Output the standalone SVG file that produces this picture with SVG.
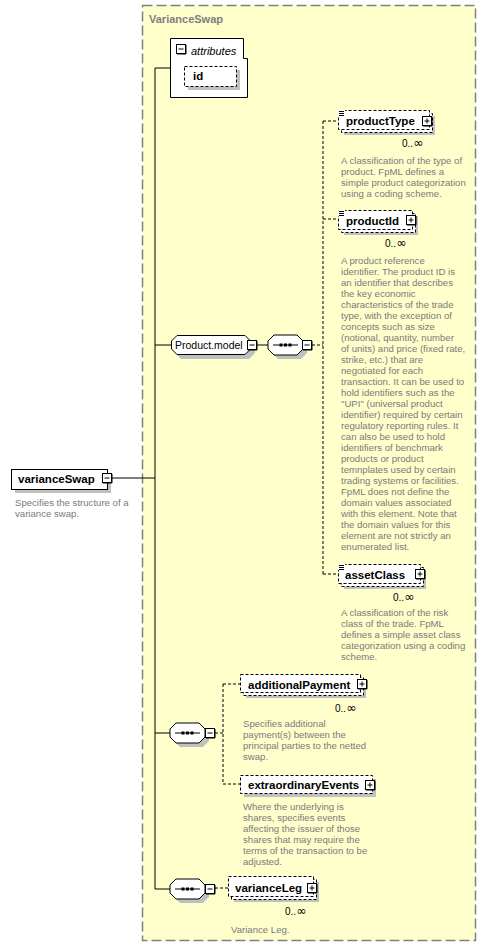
<svg xmlns="http://www.w3.org/2000/svg" width="486" height="951" viewBox="0 0 486 951">
<style>
text{font-family:"Liberation Sans",Arial,sans-serif}
.lbl{font-weight:bold;font-size:11.5px;fill:#000}
.desc{font-size:9.6px;fill:#7a7a7a}
.card{font-size:10px;fill:#000}
.inf{font-family:"DejaVu Sans",sans-serif;font-size:12.5px}
.box{fill:#fff;stroke:#000;stroke-width:1}
.dbox{fill:#fff;stroke:#000;stroke-width:1;stroke-dasharray:3,2}
.shd{fill:#c0c0c0}
.con{fill:none;stroke:#000;stroke-width:1}
.dcon{fill:none;stroke:#000;stroke-width:1;stroke-dasharray:3,2}
</style>
<defs>
<g id="plus"><rect x="0.5" y="0.5" width="9" height="9" fill="#fff" stroke="#000"/><path d="M10,1V10H1" fill="none" stroke="#000"/><path d="M2.5,5H7.5M5,2.5V7.5" stroke="#000"/></g>
<g id="minus"><rect x="0.5" y="0.5" width="9" height="9" fill="#fff" stroke="#000"/><path d="M10,1V10H1" fill="none" stroke="#000"/><path d="M2.5,5H7.5" stroke="#000"/></g>
<g id="elicon"><rect x="0" y="0" width="7" height="6" fill="#fff"/><path d="M1,1.5H6M1,3.5H6M1,5.5H6" stroke="#000" stroke-width="1"/></g>
<path id="seqshape" d="M6,0H29L35,6V14L29,20H6L0,14V6Z"/>
<g id="seqsym"><path d="M5,10H30" stroke="#000"/><rect x="11.5" y="8.5" width="3" height="3" fill="#000"/><rect x="16" y="8.5" width="3" height="3" fill="#000"/><rect x="20.5" y="8.5" width="3" height="3" fill="#000"/></g>
</defs>

<g id="frame">
<rect x="142.5" y="5.5" width="333" height="935" fill="#ffffcc" stroke="#808080" stroke-width="1.5" stroke-dasharray="10,4"/>
<text x="149" y="23" style="font-weight:bold;font-size:11px;fill:#808080">VarianceSwap</text>
</g>

<g id="connectors">
<path class="con" d="M155,68H170M155,68V889M112,478H155M155,345H171M257,345H268M155,733H170M155,889H170"/>
<path class="dcon" d="M312,345H323M323,121V574M323,121H338M323,219H338M323,574H338M215,733H223M223,684V784M223,684H240M223,784H240M215,888H228"/>
</g>

<g id="varianceSwap">
<rect class="shd" x="15" y="473" width="96" height="20"/>
<rect class="box" x="11.5" y="469.5" width="96" height="20"/>
<text class="lbl" x="18" y="483">varianceSwap</text>
<use href="#minus" x="102" y="473"/>
<text class="desc" x="15" y="506">Specifies the structure of a</text>
<text class="desc" x="15" y="517">variance swap.</text>
</g>

<g id="attributes">
<path class="box" d="M170.5,38.5H243.5V58.5H247.5V97.5H170.5Z"/>
<use href="#minus" x="176" y="44"/>
<text x="191" y="55" style="font-style:italic;font-size:11px;fill:#000">attributes</text>
<rect class="shd" x="188" y="70" width="52" height="20"/>
<rect class="dbox" x="184.5" y="66.5" width="52" height="20"/>
<text class="lbl" x="193" y="80">id</text>
</g>

<g id="productModel">
<path class="shd" d="M181,339H249L255,345V353L249,359H181L175,353V345Z"/>
<path class="box" d="M177,335.5H245L250.5,341V349L245,354.5H177L171.5,349V341Z"/>
<text x="175" y="349" style="font-size:10.5px;fill:#000">Product.model</text>
<use href="#minus" x="247" y="340"/>
</g>

<g id="sequence1">
<use href="#seqshape" x="272" y="339" class="shd"/>
<use href="#seqshape" x="268" y="335" style="fill:#fff;stroke:#000"/>
<use href="#seqsym" x="268" y="335"/>
<use href="#minus" x="302" y="340"/>
</g>

<g id="productType">
<rect class="shd" x="344" y="116" width="91" height="19"/>
<rect class="dbox" x="341.5" y="113.5" width="91" height="19"/>
<rect class="dbox" x="338.5" y="110.5" width="91" height="19"/>
<use href="#elicon" x="338" y="110"/>
<text class="lbl" x="346" y="125">productType</text>
<use href="#plus" x="422" y="116"/>
<text class="card" x="402" y="147">0..<tspan class="inf">∞</tspan></text>
<text class="desc" x="341" y="163.5">A classification of the type of</text>
<text class="desc" x="341" y="174.5">product. FpML defines a</text>
<text class="desc" x="341" y="185.5">simple product categorization</text>
<text class="desc" x="341" y="196.5">using a coding scheme.</text>
</g>

<g id="productId">
<rect class="shd" x="344" y="216" width="74" height="19"/>
<rect class="dbox" x="341.5" y="213.5" width="74" height="19"/>
<rect class="dbox" x="338.5" y="210.5" width="74" height="19"/>
<use href="#elicon" x="338" y="210"/>
<text class="lbl" x="346" y="224.5">productId</text>
<use href="#plus" x="406" y="215"/>
<text class="card" x="385" y="247">0..<tspan class="inf">∞</tspan></text>
<text class="desc" x="341" y="263.5">A product reference</text>
<text class="desc" x="341" y="274.5">identifier. The product ID is</text>
<text class="desc" x="341" y="285.5">an identifier that describes</text>
<text class="desc" x="341" y="296.5">the key economic</text>
<text class="desc" x="341" y="307.5">characteristics of the trade</text>
<text class="desc" x="341" y="318.5">type, with the exception of</text>
<text class="desc" x="341" y="329.5">concepts such as size</text>
<text class="desc" x="341" y="340.5">(notional, quantity, number</text>
<text class="desc" x="341" y="351.5">of units) and price (fixed rate,</text>
<text class="desc" x="341" y="362.5">strike, etc.) that are</text>
<text class="desc" x="341" y="373.5">negotiated for each</text>
<text class="desc" x="341" y="384.5">transaction. It can be used to</text>
<text class="desc" x="341" y="395.5">hold identifiers such as the</text>
<text class="desc" x="341" y="406.5">"UPI" (universal product</text>
<text class="desc" x="341" y="417.5">identifier) required by certain</text>
<text class="desc" x="341" y="428.5">regulatory reporting rules. It</text>
<text class="desc" x="341" y="439.5">can also be used to hold</text>
<text class="desc" x="341" y="450.5">identifiers of benchmark</text>
<text class="desc" x="341" y="461.5">products or product</text>
<text class="desc" x="341" y="472.5">temnplates used by certain</text>
<text class="desc" x="341" y="483.5">trading systems or facilities.</text>
<text class="desc" x="341" y="494.5">FpML does not define the</text>
<text class="desc" x="341" y="505.5">domain values associated</text>
<text class="desc" x="341" y="516.5">with this element. Note that</text>
<text class="desc" x="341" y="527.5">the domain values for this</text>
<text class="desc" x="341" y="538.5">element are not strictly an</text>
<text class="desc" x="341" y="549.5">enumerated list.</text>
</g>

<g id="assetClass">
<rect class="shd" x="344" y="570" width="82" height="19"/>
<rect class="dbox" x="341.5" y="567.5" width="82" height="19"/>
<rect class="dbox" x="338.5" y="564.5" width="82" height="19"/>
<use href="#elicon" x="338" y="564"/>
<text class="lbl" x="345" y="578.5">assetClass</text>
<use href="#plus" x="415" y="569"/>
<text class="card" x="393" y="601">0..<tspan class="inf">∞</tspan></text>
<text class="desc" x="341" y="616">A classification of the risk</text>
<text class="desc" x="341" y="627">class of the trade. FpML</text>
<text class="desc" x="341" y="638">defines a simple asset class</text>
<text class="desc" x="341" y="649">categorization using a coding</text>
<text class="desc" x="341" y="660">scheme.</text>
</g>

<g id="sequence2">
<use href="#seqshape" x="174" y="727" class="shd"/>
<use href="#seqshape" x="170" y="723" style="fill:#fff;stroke:#000"/>
<use href="#seqsym" x="170" y="723"/>
<use href="#minus" x="205" y="728"/>
</g>

<g id="additionalPayment">
<rect class="shd" x="246" y="680" width="120" height="18"/>
<rect class="dbox" x="243.5" y="677.5" width="120" height="18"/>
<rect class="dbox" x="240.5" y="674.5" width="120" height="18"/>
<text class="lbl" x="248" y="688.5">additionalPayment</text>
<use href="#plus" x="357" y="679"/>
<text class="card" x="335" y="711.5">0..<tspan class="inf">∞</tspan></text>
<text class="desc" x="243" y="727">Specifies additional</text>
<text class="desc" x="243" y="738">payment(s) between the</text>
<text class="desc" x="243" y="749">principal parties to the netted</text>
<text class="desc" x="243" y="760">swap.</text>
</g>

<g id="extraordinaryEvents">
<rect class="shd" x="244" y="779" width="132" height="18"/>
<rect class="dbox" x="240.5" y="775.5" width="132" height="18"/>
<text class="lbl" x="248" y="788.5">extraordinaryEvents</text>
<use href="#plus" x="365" y="780"/>
<text class="desc" x="243" y="810">Where the underlying is</text>
<text class="desc" x="243" y="821">shares, specifies events</text>
<text class="desc" x="243" y="832">affecting the issuer of those</text>
<text class="desc" x="243" y="843">shares that may require the</text>
<text class="desc" x="243" y="854">terms of the transaction to be</text>
<text class="desc" x="243" y="865">adjusted.</text>
</g>

<g id="sequence3">
<use href="#seqshape" x="174" y="883" class="shd"/>
<use href="#seqshape" x="170" y="879" style="fill:#fff;stroke:#000"/>
<use href="#seqsym" x="170" y="879"/>
<use href="#minus" x="205" y="884"/>
</g>

<g id="varianceLeg">
<rect class="shd" x="234" y="882" width="85" height="20"/>
<rect class="dbox" x="231.5" y="879.5" width="85" height="20"/>
<rect class="dbox" x="228.5" y="876.5" width="85" height="20"/>
<text class="lbl" x="235" y="891.5">varianceLeg</text>
<use href="#plus" x="307" y="883"/>
<text class="card" x="285" y="915">0..<tspan class="inf">∞</tspan></text>
<text class="desc" x="231" y="933">Variance Leg.</text>
</g>
</svg>
